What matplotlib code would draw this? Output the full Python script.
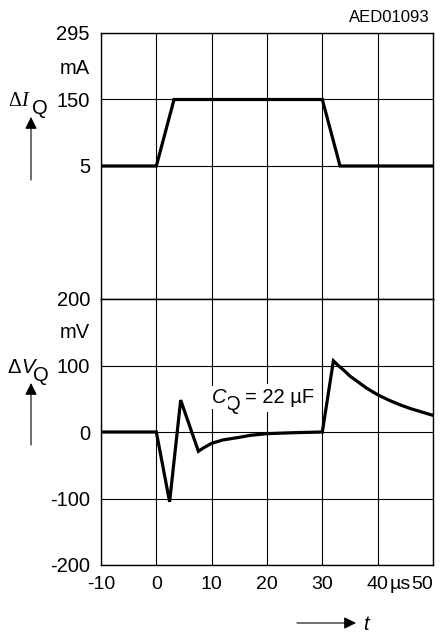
"""Load-transient plot: output current step (top) and the resulting
output-voltage deviation (bottom), C_Q = 22 uF.
"""
import matplotlib.pyplot as plt
from matplotlib.patches import FancyArrowPatch

# time axis (us)
t_ticks = [-10, 0, 10, 20, 30, 40, 50]
t_ticklabels = ['-10', '0', '10', '20', '30', '40', '']

# current step, mA
t_i = [-10, 0, 3.2, 30, 33.2, 50]
i_q = [5, 5, 150, 150, 5, 5]
i_ticks = [5, 150, 295]

# output voltage deviation, mV
t_v = [-10, 0, 2.4, 4.4, 7.6, 8.5, 10, 12, 15, 17, 20, 25, 30,
       32, 33, 34, 35, 36, 37, 38, 39, 40, 42, 44, 46, 48, 50]
v_q = [0, 0, -105, 48, -29, -24, -17, -12, -8, -5, -2.5, -1, 0,
       107, 99, 92, 84, 78, 72, 66, 61, 56, 48, 41, 35, 30, 25]
v_ticks = [-200, -100, 0, 100, 200]

W, H = 445, 634
FS = 14.5
XFS = 14
SANS = ['Liberation Sans', 'DejaVu Sans']
SERIF = ['Liberation Serif', 'DejaVu Serif']
plt.rcParams['font.family'] = SANS
plt.rcParams['font.size'] = FS
plt.rcParams['axes.unicode_minus'] = False


def px(x, y):
    return x / W, 1 - y / H


fig = plt.figure(figsize=(W / 100, H / 100), dpi=100)
x0, x1 = 101, 433
ax_i = fig.add_axes([x0 / W, 1 - 299 / H, (x1 - x0) / W, (299 - 33) / H])
ax_v = fig.add_axes([x0 / W, 1 - 565 / H, (x1 - x0) / W, (565 - 299) / H])

for ax in (ax_i, ax_v):
    ax.set_xlim(-10, 50)
    ax.set_xticks(t_ticks)
    ax.grid(True, color='black', lw=0.8)
    ax.tick_params(length=0, pad=8, labelsize=FS)
    ax.tick_params(axis='x', labelsize=XFS)
    for s in ax.spines.values():
        s.set_linewidth(1.0)

ax_i.set_ylim(5 - 2 * 145, 295)
ax_i.set_yticks(i_ticks)
ax_i.set_xticklabels([])
ax_i.plot(t_i, i_q, color='black', lw=2.3, solid_joinstyle='miter')

ax_v.set_ylim(-200, 200)
ax_v.set_yticks(v_ticks)
ax_v.set_xticklabels(t_ticklabels)
ax_v.plot(t_v, v_q, color='black', lw=2.3, solid_joinstyle='miter')

# '50' sits flush with the right edge, 'µs' between 40 and 50
ax_v.annotate('50', xy=(50, 0), xycoords=('data', 'axes fraction'), fontsize=XFS,
              xytext=(0, -8), textcoords='offset points', ha='right', va='top')
ax_v.annotate('µs', xy=(44.1, 0), xycoords=('data', 'axes fraction'), fontsize=XFS,
              xytext=(0, -8), textcoords='offset points', ha='center', va='top')

# units
ax_i.annotate('mA', xy=(0, 218), xycoords=('axes fraction', 'data'),
              xytext=(-8, 0), textcoords='offset points', ha='right', va='center')
ax_v.annotate('mV', xy=(0, 150), xycoords=('axes fraction', 'data'),
              xytext=(-8, 0), textcoords='offset points', ha='right', va='center')

# C_Q label; each piece masks the grid behind it
box = dict(fc='white', ec='none', pad=1.5)
ax_v.text(16.0, 43, '= 22 µF', va='baseline', bbox=dict(fc='white', ec='none', pad=3),
          zorder=2.9)
ax_v.text(12.5, 33, 'Q', va='baseline', bbox=box, zorder=3.0)
ax_v.text(10.0, 43, 'C', style='italic', va='baseline', bbox=box, zorder=3.1)

# y-axis labels
fig.text(*px(8, 106), 'Δ', family=SERIF, va='baseline')
fig.text(*px(21, 106), 'I', family=SERIF, style='italic', va='baseline')
fig.text(*px(32, 114), 'Q', va='baseline')
fig.text(*px(7, 373), 'Δ', va='baseline')
fig.text(*px(21, 373), 'V', style='italic', va='baseline')
fig.text(*px(33, 381), 'Q', va='baseline')

fig.text(*px(363, 624), 't', style='italic', va='center')
fig.text(*px(430, 17), 'AED01093', ha='right', va='center', fontsize=12)

arrow_kw = dict(transform=fig.transFigure, arrowstyle='-|>,head_length=0.6,head_width=0.3',
                mutation_scale=12, lw=0.8, color='black', shrinkA=0, shrinkB=0)
fig.add_artist(FancyArrowPatch(px(31, 180), px(31, 117), **arrow_kw))
fig.add_artist(FancyArrowPatch(px(31, 445), px(31, 383), **arrow_kw))
fig.add_artist(FancyArrowPatch(px(297, 623), px(356, 623), **arrow_kw))

fig.savefig('out.png', dpi=100)
